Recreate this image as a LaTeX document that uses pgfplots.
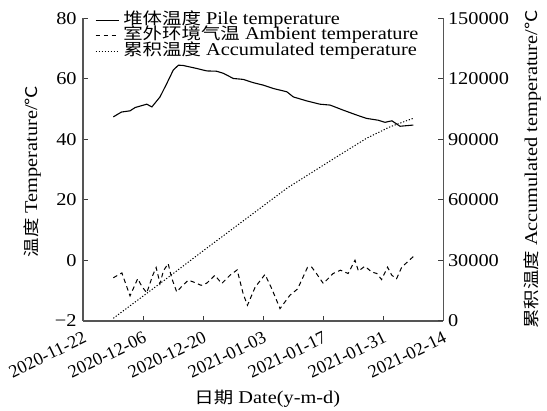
\documentclass[border=0pt]{standalone}
\usepackage{pgfplots}
\pgfplotsset{compat=1.18}
\usepackage{fontspec}
\setmainfont{Liberation Serif}[FakeStretch=1.13]
\newfontfamily\plainserif{Liberation Serif}
\newfontfamily\cjk{Noto Sans CJK SC}[FakeStretch=1.2, Scale=0.9]
\newcommand{\fs}{\fontsize{18bp}{20bp}\selectfont}
\newcommand{\fx}{\plainserif\fontsize{18bp}{20bp}\selectfont}
\definecolor{axgray}{HTML}{555555}
\begin{document}
\begin{tikzpicture}
\useasboundingbox (-83.3bp,-90.3bp) rectangle (463.7bp,320.7bp);
\begin{axis}[
  scale only axis, width=360bp, height=302.4bp,
  xmin=0, xmax=84, ymin=-20, ymax=80,
  axis x line*=bottom, axis y line*=left,
  axis line style={-, draw=axgray, line width=1.6bp},
  major tick style={draw=axgray!70!black, line width=1.2bp},
  major tick length=5bp,
  xtick={0,14,28,42,56,70,84},
  xticklabels={2020-11-22,2020-12-06,2020-12-20,2021-01-03,2021-01-17,2021-01-31,2021-02-14},
  ytick={-20,0,20,40,60,80},
  yticklabels={−2,0,20,40,60,80},
  yticklabel style={font=\fs, inner sep=0pt, xshift=-6.5bp},
  xticklabel style={font=\fx, xshift=-1bp, yshift=-10bp, rotate=26, anchor=north east, inner sep=0pt},
  xlabel={{\cjk 日期} Date(y-m-d)},
  xlabel style={font=\fs, at={(axis description cs:0.511,-0.258)}, anchor=center},
  ylabel={{\cjk 温度} Temperature/{\cjk ℃}},
  ylabel style={font=\fs, at={(axis description cs:-0.1417,0.4934)}, anchor=center},
  legend style={at={(axis description cs:0.0325,1.018)}, anchor=north west, draw=none, fill=none,
    font=\fs, inner sep=0pt, row sep=1bp, column sep=4bp,
    nodes={inner sep=0pt, text height=11bp, text depth=3.5bp}},
  legend cell align=left,
  legend image code/.code={\draw[#1] (0bp,0bp) -- (23bp,0bp);},
]
\addplot[black, line width=1.1bp] coordinates {
(7.0,47.4) (8.9,49.0) (10.9,49.4) (12.1,50.5) (14.8,51.6) (16.0,50.7) (17.9,54.0)
(19.5,58.5) (21.0,62.9) (22.2,64.5) (23.3,64.4) (26.5,63.4) (28.8,62.6) (31.1,62.5)
(32.7,61.8) (35.0,60.1) (37.3,59.8) (39.7,58.7) (42.0,57.9) (44.3,56.8) (47.5,55.7)
(49.0,54.0) (52.1,52.7) (55.2,51.6) (57.6,51.3) (60.7,49.6) (63.8,48.0) (66.1,46.9)
(68.8,46.3) (70.4,45.6) (72.0,46.1) (73.9,44.3) (77.0,44.7)
};
\addlegendentry{{\cjk 堆体温度} Pile temperature}
\addplot[black, line width=1bp, dash pattern=on 4.5bp off 3.5bp] coordinates {
(7.0,-5.8) (9.0,-4.2) (10.9,-11.8) (12.7,-6.1) (13.6,-8.5) (14.8,-10.8) (16.2,-5.0)
(17.0,-2.4) (17.9,-7.7) (18.7,-3.5) (19.8,-1.1) (20.6,-5.8) (21.8,-10.5) (23.0,-8.6)
(24.5,-6.6) (25.7,-7.2) (27.5,-8.3) (28.8,-7.6) (30.7,-5.0) (32.3,-7.7) (34.2,-5.0)
(35.9,-3.2) (37.3,-11.1) (38.3,-14.9) (40.1,-8.9) (42.4,-4.7) (44.0,-9.5) (45.9,-16.0)
(48.2,-11.6) (50.0,-9.5) (52.3,-2.4) (53.3,-2.3) (54.4,-4.4) (56.0,-7.7) (58.3,-4.4)
(60.0,-3.3) (61.8,-4.4) (63.4,0.0) (64.2,-3.6) (65.7,-2.0) (67.3,-3.9) (68.5,-4.4)
(69.6,-6.4) (71.0,-2.3) (72.0,-5.0) (73.1,-6.1) (74.3,-2.3) (77.0,1.2)
};
\addlegendentry{{\cjk 室外环境气温} Ambient temperature}
\addlegendimage{black, line width=1bp, dash pattern=on 1.2bp off 1.8bp}
\addlegendentry{{\cjk 累积温度} Accumulated temperature}
\end{axis}
\begin{axis}[
  scale only axis, width=360bp, height=302.4bp,
  xmin=0, xmax=84, ymin=0, ymax=150000,
  axis x line=none, axis y line*=right,
  axis line style={-, draw=axgray, line width=1.6bp},
  major tick style={draw=axgray!70!black, line width=1.2bp},
  major tick length=5bp,
  scaled y ticks=false,
  ytick={0,30000,60000,90000,120000,150000},
  yticklabels={0,30000,60000,90000,120000,150000},
  yticklabel style={font=\fs, inner sep=0pt, xshift=4.5bp},
  ylabel={{\cjk 累积温度} Accumulated temperature/{\cjk ℃}},
  ylabel style={font=\fs, at={(axis description cs:1.2472,0.5)}, anchor=center},
]
\addplot[black, line width=1bp, dash pattern=on 1.2bp off 1.8bp] coordinates {
(7.0,1200) (19.5,21000) (28.0,34700) (47.5,65700) (58.3,80200) (66.1,90500)
(71.6,96200) (77.0,100400)
};
\end{axis}
\end{tikzpicture}
\end{document}
